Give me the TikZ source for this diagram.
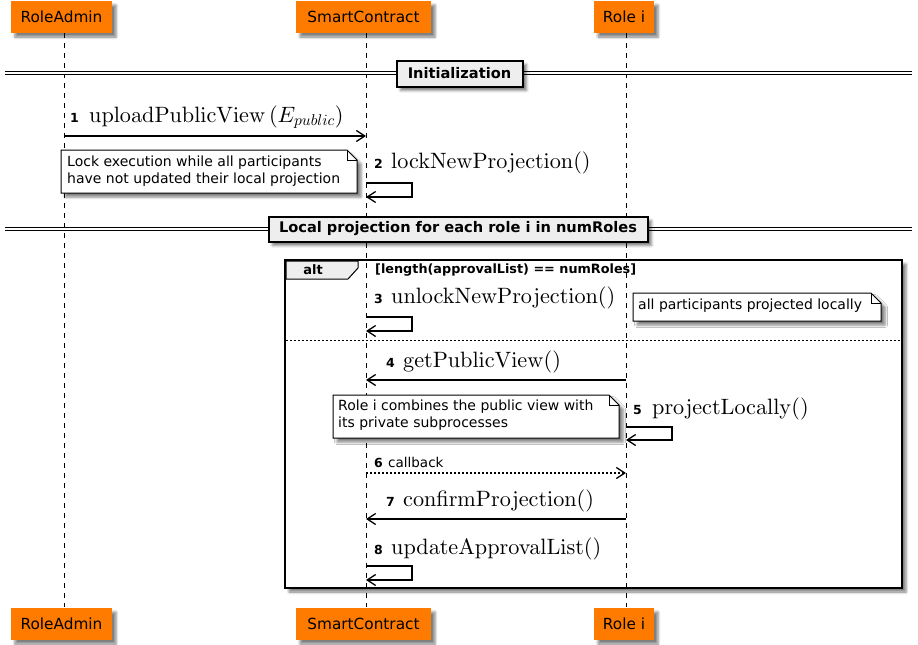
\documentclass[tikz,border=0pt]{standalone}
\usepackage[no-math]{fontspec}
\newfontfamily\dvsans{DejaVu Sans}
\usetikzlibrary{arrows.meta,shadows.blur}

% math labels in Computer Modern 10pt design, scaled freely
\DeclareFontFamily{OT1}{cmrten}{\hyphenchar\font45 }
\DeclareFontShape{OT1}{cmrten}{m}{n}{<->cmr10}{}
\DeclareFontFamily{OML}{cmmten}{\skewchar\font127 }
\DeclareFontShape{OML}{cmmten}{m}{it}{<->cmmi10}{}
\DeclareSymbolFont{operators}{OT1}{cmrten}{m}{n}
\DeclareSymbolFont{letters}{OML}{cmmten}{m}{it}

\definecolor{partorange}{HTML}{FF7B00}
\definecolor{divfill}{HTML}{EEEEEE}

\tikzset{
  softshadow/.style={blur shadow={shadow xshift=4pt, shadow yshift=-4pt,
      shadow blur radius=2.5pt, shadow opacity=50}},
  participant/.style={fill=partorange, minimum height=32pt, inner sep=0pt,
      font=\dvsans\fontsize{15.3}{18}\selectfont, softshadow},
  lifeline/.style={line width=0.9pt, dash pattern=on 5pt off 5pt},
  msg/.style={line width=1.2pt, -{Straight Barb[length=8.5pt,width=11pt,line width=1.3pt]}},
  reply/.style={msg, dash pattern=on 2pt off 2pt},
  stepno/.style={font=\dvsans\bfseries\fontsize{12.5}{14}\selectfont, inner sep=0pt, anchor=base west},
  mathlabel/.style={font=\fontsize{22.2}{26}\selectfont, inner sep=0pt, anchor=base west},
  plainlabel/.style={font=\dvsans\fontsize{13.5}{16}\selectfont, inner sep=0pt, anchor=base west},
  notetext/.style={font=\dvsans\fontsize{14}{17}\selectfont, inner sep=0pt, align=left, anchor=north west},
  notebody/.style={fill=white, draw=black, line width=1pt, softshadow},
  dividerline/.style={double=white, double distance=2.2pt, line width=1.1pt},
  dividerbox/.style={fill=divfill, draw=black, line width=2pt, inner sep=0pt,
      font=\dvsans\bfseries\fontsize{14.6}{17}\selectfont, softshadow},
  altframe/.style={draw=black, line width=2pt, softshadow},
}

\begin{document}
\begin{tikzpicture}[x=1pt,y=-1pt]
\useasboundingbox (0,0) rectangle (918,645);

% ---------- participants ----------
\node[participant, minimum width=101pt] (raTop) at (61.5,17) {RoleAdmin};
\node[participant, minimum width=135pt] (scTop) at (363.5,17) {SmartContract};
\node[participant, minimum width=60pt]  (riTop) at (624,17) {Role i};
\node[participant, minimum width=101pt] (raBot) at (61.5,624) {RoleAdmin};
\node[participant, minimum width=135pt] (scBot) at (363.5,624) {SmartContract};
\node[participant, minimum width=60pt]  (riBot) at (624,624) {Role i};

% lifelines
\coordinate (raA) at (64,33);  \coordinate (raZ) at (64,607);
\coordinate (scA) at (366,33); \coordinate (scZ) at (366,607);
\coordinate (riA) at (626,33); \coordinate (riZ) at (626,607);

% ---------- alt frame (drawn below the lifelines) ----------
\path[altframe, fill=white] (285,260) rectangle (902,588);
\draw[lifeline] (raA) -- (raZ);
\draw[lifeline] (scA) -- (scZ);
\draw[lifeline] (riA) -- (riZ);
\draw[line width=2pt] (285,260) rectangle (902,588);
\draw[fill=divfill, line width=1pt] (286,261) -- (358,261) -- (358,268) -- (348,279) -- (286,279) -- cycle;
\node[font=\dvsans\bfseries\fontsize{13}{15}\selectfont, inner sep=0pt] (altlabel) at (313,270) {alt};
\node[font=\dvsans\bfseries\fontsize{12.8}{15}\selectfont, inner sep=0pt, anchor=west] (guard) at (375,270)
  {[length(approvalList) == numRoles]};
\draw[line width=0.9pt, dash pattern=on 2pt off 2pt] (286,340) -- (901,340);

% ---------- dividers ----------
\draw[dividerline] (5,73) -- (912,73);
\node[dividerbox, minimum width=126pt, minimum height=26pt] (div1) at (459.5,73.5) {Initialization};
\draw[dividerline] (5,229) -- (912,229);
\node[dividerbox, minimum width=379pt, minimum height=25pt] (div2) at (458,229)
  {Local projection for each role i in numRoles};

% ---------- message 1 ----------
\coordinate (m1s) at (64,136); \coordinate (m1e) at (366,136);
\draw[msg] (m1s) -- (m1e);
\node[stepno] (n1) at (70,122) {1};
\node[mathlabel] (t1) at (89,122) {$\mathrm{uploadPublicView}\left(E_{public}\right)$};

% note: lock execution
\path[notebody] (61,150) -- (347,150) -- (357,160) -- (357,193) -- (61,193) -- cycle;
\draw[line width=1pt] (347,150) -- (347,160) -- (357,160);
\node[notetext] (note1) at (67,156) {Lock execution while all participants\\have not updated their local projection};

% ---------- message 2 (self) ----------
\coordinate (m2s) at (366,183); \coordinate (m2e) at (366,197);
\draw[msg] (m2s) -- ++(46,0) |- (m2e);
\node[stepno] (n2) at (374,168) {2};
\node[mathlabel] (t2) at (391,168) {$\mathrm{lockNewProjection}()$};

% ---------- message 3 (self) ----------
\coordinate (m3s) at (366,317); \coordinate (m3e) at (366,331);
\draw[msg] (m3s) -- ++(46,0) |- (m3e);
\node[stepno] (n3) at (374,303) {3};
\node[mathlabel] (t3) at (391,303) {$\mathrm{unlockNewProjection}()$};

% note: all participants projected locally
\path[notebody] (633,293) -- (871,293) -- (881,303) -- (881,321) -- (633,321) -- cycle;
\draw[line width=1pt] (871,293) -- (871,303) -- (881,303);
\node[notetext] (note3) at (638,299) {all participants projected locally};

% ---------- message 4 ----------
\coordinate (m4s) at (626,380); \coordinate (m4e) at (366,380);
\draw[msg] (m4s) -- (m4e);
\node[stepno] (n4) at (386,367) {4};
\node[mathlabel] (t4) at (403,367) {$\mathrm{getPublicView}()$};

% note: role i combines
\path[notebody] (333,395) -- (609,395) -- (619,405) -- (619,438) -- (333,438) -- cycle;
\draw[line width=1pt] (609,395) -- (609,405) -- (619,405);
\node[notetext] (note2) at (338,400) {Role i combines the public view with\\its private subprocesses};

% ---------- message 5 (self) ----------
\coordinate (m5s) at (626,427); \coordinate (m5e) at (626,440);
\draw[msg] (m5s) -- ++(46,0) |- (m5e);
\node[stepno] (n5) at (633,414) {5};
\node[mathlabel] (t5) at (652,414) {$\mathrm{projectLocally}()$};

% ---------- message 6 (dotted) ----------
\coordinate (m6s) at (366,473); \coordinate (m6e) at (626,473);
\draw[reply] (m6s) -- (m6e);
\node[stepno] (n6) at (374,467) {6};
\node[plainlabel] (t6) at (388,467) {callback};

% ---------- message 7 ----------
\coordinate (m7s) at (626,519); \coordinate (m7e) at (366,519);
\draw[msg] (m7s) -- (m7e);
\node[stepno] (n7) at (386,506) {7};
\node[mathlabel] (t7) at (403,506) {$\mathrm{confirmProjection}()$};

% ---------- message 8 (self) ----------
\coordinate (m8s) at (366,566); \coordinate (m8e) at (366,580);
\draw[msg] (m8s) -- ++(46,0) |- (m8e);
\node[stepno] (n8) at (374,554) {8};
\node[mathlabel] (t8) at (391,554) {$\mathrm{updateApprovalList}()$};
\end{tikzpicture}
\end{document}
